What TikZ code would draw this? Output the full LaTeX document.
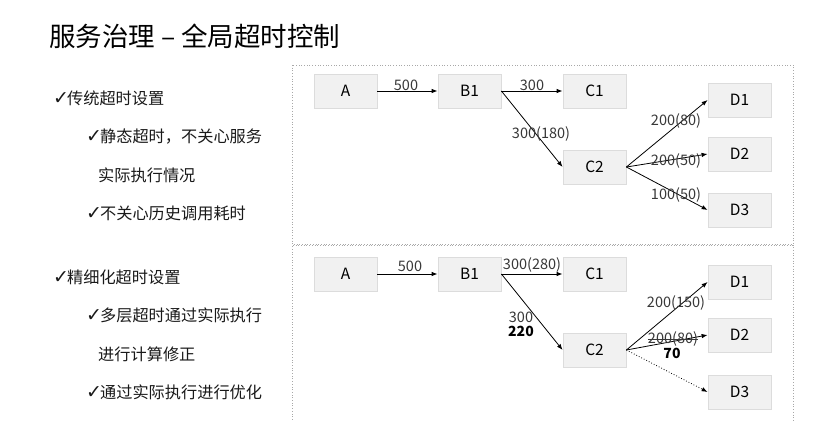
\documentclass[tikz,border=0pt]{standalone}
\usepackage{fontspec}
\setmainfont{Noto Sans CJK SC}
\newfontfamily\cjk{Noto Sans CJK SC}
\newfontfamily\symf{DejaVu Sans}
\usetikzlibrary{arrows.meta}
\definecolor{boxfill}{HTML}{F1F1F1}
\definecolor{boxline}{HTML}{DCDCDC}
\definecolor{frameline}{HTML}{A8A8A8}
\definecolor{lbl}{HTML}{383838}
\newcommand{\tick}{{\symf\fontsize{19}{19}\selectfont ✓}}
\tikzset{
  svc/.style={draw=boxline, fill=boxfill, line width=0.8pt, minimum width=63pt, minimum height=34pt, inner sep=0pt, font=\fontsize{15.5}{15.5}\selectfont, text=black},
  flow/.style={-{Latex[length=6pt,width=4.5pt]}, line width=0.8pt, black},
  elbl/.style={inner sep=0pt, text=lbl, font=\fontsize{14.5}{14.5}\selectfont},
  bl/.style={inner sep=0pt, text=black, font=\fontsize{14}{14}\selectfont\bfseries},
  item/.style={anchor=west, inner sep=0pt, text=black!90, font=\fontsize{16.2}{16.2}\selectfont},
  frame/.style={draw=frameline, dotted, line width=0.7pt}
}
\begin{document}
\begin{tikzpicture}[x=1pt,y=-1pt]
\useasboundingbox (0,0) rectangle (829,420);
% title
\node[anchor=west, inner sep=0pt, font=\fontsize{26.5}{26.5}\selectfont, text=black] (title) at (49,36) {服务治理 – 全局超时控制};
% left text
\node[item] (t1) at (53,98) {\tick\hspace{-2pt}传统超时设置};
\node[item] (t2) at (86,137) {\tick\hspace{-2pt}静态超时，不关心服务};
\node[item] (t3) at (98,175) {实际执行情况};
\node[item] (t4) at (86,213) {\tick\hspace{-2pt}不关心历史调用耗时};
\node[item] (t5) at (53,277) {\tick\hspace{-2pt}精细化超时设置};
\node[item] (t6) at (86,315) {\tick\hspace{-2pt}多层超时通过实际执行};
\node[item] (t7) at (98,354) {进行计算修正};
\node[item] (t8) at (86,392) {\tick\hspace{-2pt}通过实际执行进行优化};
% frames
\draw[frame] (292,65) rectangle (793,244);
\draw[frame] (292,425) -- (292,245) -- (793,245) -- (793,425);
% top panel
\node[svc] (a1) at (345.5,91) {A};
\node[svc] (b1) at (469.5,91) {B1};
\node[svc] (c1) at (594.5,91) {C1};
\node[svc] (c2) at (594.5,167) {C2};
\node[svc] (d1) at (739.5,100) {D1};
\node[svc] (d2) at (739.5,154) {D2};
\node[svc] (d3) at (739.5,210) {D3};
\draw[flow] (a1.east) -- (b1.west);
\draw[flow] (b1.east) -- (c1.west);
\draw[flow] (b1.east) -- (c2.west);
\draw[flow] (c2.east) -- (d1.west);
\draw[flow] (c2.east) -- (d2.west);
\draw[flow] (c2.east) -- (d3.west);
\node[elbl] (l1) at (406,85) {500};
\node[elbl] (l2) at (532,85) {300};
\node[elbl] (l3) at (541,134) {300(180)};
\node[elbl] (l4) at (676,121) {200(80)};
\node[elbl] (l5) at (676,161) {200(50)};
\node[elbl] (l6) at (676,195) {100(50)};
% bottom panel
\node[svc] (a2) at (345.5,274) {A};
\node[svc] (b2) at (469.5,274) {B1};
\node[svc] (e1) at (594.5,274) {C1};
\node[svc] (e2) at (594.5,350) {C2};
\node[svc] (f1) at (739.5,282) {D1};
\node[svc] (f2) at (739.5,335) {D2};
\node[svc] (f3) at (739.5,392) {D3};
\draw[flow] (a2.east) -- (b2.west);
\draw[flow] (b2.east) -- (e1.west);
\draw[flow] (b2.east) -- (e2.west);
\draw[flow] (e2.east) -- (f1.west);
\draw[flow] (e2.east) -- (f2.west);
\draw[flow, dotted] (e2.east) -- (f3.west);
\node[elbl] (m1) at (410,266) {500};
\node[elbl] (m2) at (532,265) {300(280)};
\node[elbl] (m3) at (521,317) {300};
\node[bl] (m4) at (521,331) {220};
\node[elbl] (m5) at (676,303) {200(150)};
\node[elbl] (m6) at (673,339) {200(80)};
\draw[line width=0.7pt, lbl] (m6.west) -- (m6.east);
\node[bl] (m7) at (672,353) {70};
\end{tikzpicture}
\end{document}
